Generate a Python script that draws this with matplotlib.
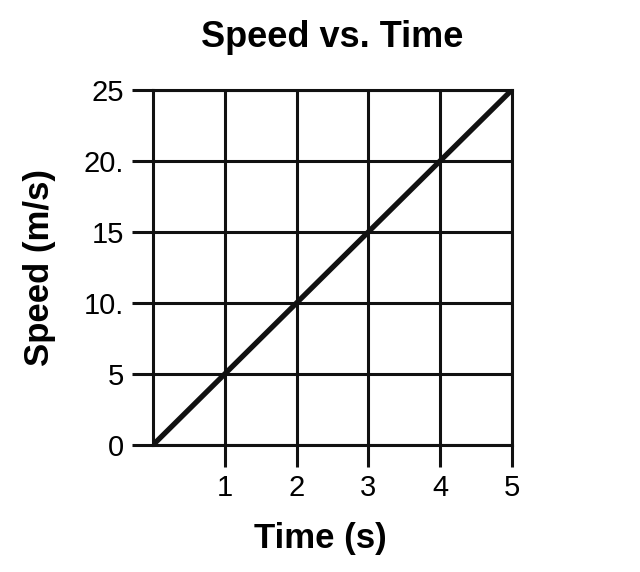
import matplotlib
matplotlib.use("Agg")
import matplotlib.pyplot as plt
import numpy as np

plt.rcParams['font.family'] = ['Liberation Sans', 'DejaVu Sans']

# Data
time_s = [0, 1, 2, 3, 4, 5]
speed_ms = [0, 5, 10, 15, 20, 25]
x_ticks = [1, 2, 3, 4, 5]
x_labels = ["1", "2", "3", "4", "5"]
y_ticks = [0, 5, 10, 15, 20, 25]
y_labels = ["0", "5", "10.", "15", "20.", "25"]

fig = plt.figure(figsize=(6.4, 5.72), dpi=100)
ax = fig.add_axes([0.239, 0.222, 0.561, 0.621])

ax.plot(time_s, speed_ms, color="#111111", linewidth=3.8, solid_capstyle="butt", zorder=3)

ax.set_xlim(0, 5)
ax.set_ylim(0, 25)
ax.set_xticks(x_ticks)
ax.set_xticklabels(x_labels)
ax.set_yticks(y_ticks)
ax.set_yticklabels(y_labels)

ax.grid(True, color="#111111", linewidth=2.2)
for s in ax.spines.values():
    s.set_linewidth(2.2)
    s.set_color("#111111")

ax.tick_params(axis="x", direction="out", length=16, width=2.2, color="#111111",
               labelsize=21, pad=5)
ax.tick_params(axis="y", direction="out", length=15, width=2.2, color="#111111",
               labelsize=21, pad=6)

ax.set_title("Speed vs. Time", fontsize=26, fontweight="bold", pad=31)
ax.set_xlabel("Time (s)", fontsize=25, fontweight="bold")
ax.set_ylabel("Speed (m/s)", fontsize=25, fontweight="bold")
ax.xaxis.set_label_coords(0.465, -0.218)
ax.yaxis.set_label_coords(-0.27, 0.5)

fig.savefig("out.png", dpi=100)
